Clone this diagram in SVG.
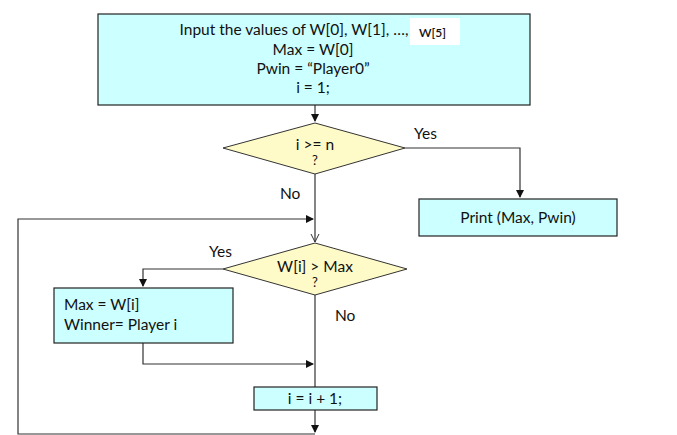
<svg xmlns="http://www.w3.org/2000/svg" width="677" height="435" viewBox="0 0 677 435">
<style>
.box{fill:#CCFFFF;stroke:#222;stroke-width:1.2}
.dia{fill:#FFFBC8;stroke:#333;stroke-width:1}
.t{font-family:Lato,"Liberation Sans",sans-serif;font-size:15.5px;fill:#111}
.c{text-anchor:middle}
.q{font-size:13px}
.ln{fill:none;stroke:#333;stroke-width:1.2}
</style>
<defs>
<marker id="ah" markerWidth="8" markerHeight="8" refX="7" refY="4" orient="auto" markerUnits="userSpaceOnUse">
<path d="M0,0 L8,4 L0,8 Z" fill="#111"/>
</marker>
<marker id="ao" markerWidth="10" markerHeight="10" refX="9" refY="5" orient="auto" markerUnits="userSpaceOnUse">
<path d="M1,1 L9,5 L1,9" fill="none" stroke="#333" stroke-width="1"/>
</marker>
</defs>
<rect width="677" height="435" fill="#fff"/>
<g id="connectors">
<path class="ln" d="M315,105 V121" marker-end="url(#ah)"/>
<path class="ln" d="M405,148 H520 V197" marker-end="url(#ah)"/>
<path class="ln" d="M315,174 V242" marker-end="url(#ao)"/>
<path class="ln" d="M315,434 H18 V219 H313" marker-end="url(#ah)"/>
<path class="ln" d="M223,269 H143 V286" marker-end="url(#ah)"/>
<path class="ln" d="M143,343 V364 H313" marker-end="url(#ah)"/>
<path class="ln" d="M315,295 V387"/>
<path class="ln" d="M315,410 V432" marker-end="url(#ah)"/>
<text class="t" x="414" y="139">Yes</text>
<text class="t" x="280" y="199">No</text>
<text class="t" x="209" y="257">Yes</text>
<text class="t" x="335" y="321">No</text>
</g>
<g id="init">
<rect class="box" x="98" y="14" width="432" height="91"/>
<rect x="410" y="18" width="50" height="27" fill="#fff"/>
<text class="t c" x="294" y="35">Input the values of W[0], W[1], …,</text>
<text class="t" x="419" y="37" style="font-size:12px;font-weight:600">W[5]</text>
<text class="t c" x="313" y="55">Max = W[0]</text>
<text class="t c" x="313" y="74">Pwin = “Player0”</text>
<text class="t c" x="313" y="93">i = 1;</text>
</g>
<g id="cond1">
<polygon class="dia" points="223,148 315,123 405,148 315,174"/>
<text class="t c" x="315" y="150">i &gt;= n</text>
<text class="t c q" x="315" y="165">?</text>
</g>
<g id="print">
<rect class="box" x="419" y="199" width="198" height="37"/>
<text class="t c" x="518" y="223">Print (Max, Pwin)</text>
</g>
<g id="cond2">
<polygon class="dia" points="223,269 315,243 407,269 315,295"/>
<text class="t c" x="315" y="272">W[i] &gt; Max</text>
<text class="t c q" x="315" y="287">?</text>
</g>
<g id="update">
<rect class="box" x="54" y="288" width="179" height="55"/>
<text class="t" x="64" y="310">Max = W[i]</text>
<text class="t" x="64" y="330">Winner= Player i</text>
</g>
<g id="incr">
<rect class="box" x="254" y="387" width="123" height="23"/>
<text class="t c" x="315" y="404">i = i + 1;</text>
</g>
</svg>
